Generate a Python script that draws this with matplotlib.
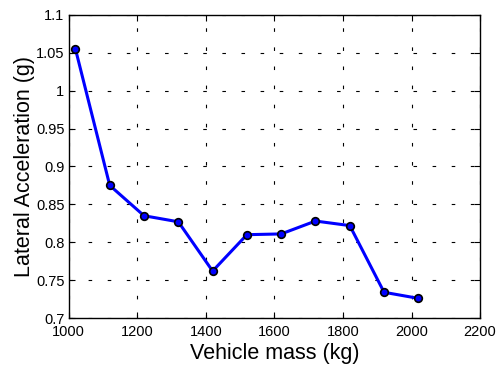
import matplotlib
matplotlib.use("Agg")
import matplotlib.pyplot as plt
from matplotlib.ticker import FuncFormatter

mass = [1020, 1120, 1220, 1320, 1420, 1520, 1620, 1720, 1820, 1920, 2020]
lat_acc = [1.055, 0.875, 0.835, 0.827, 0.762, 0.810, 0.811, 0.828, 0.822, 0.734, 0.726]
xticks = [1000, 1200, 1400, 1600, 1800, 2000, 2200]
yticks = [0.7, 0.75, 0.8, 0.85, 0.9, 0.95, 1.0, 1.05, 1.1]

plt.rcParams['font.family'] = ['Liberation Sans', 'DejaVu Sans']

fig = plt.figure(figsize=(4.97, 3.72), dpi=100)
ax = fig.add_axes([0.138, 0.145, 0.828, 0.815])

ax.plot(mass, lat_acc, color='#0000ff', linewidth=2.2, marker='o', markersize=5.5,
        markerfacecolor='#0000ff', markeredgecolor='black', markeredgewidth=1.2,
        zorder=3)

ax.set_xlim(1000, 2200)
ax.set_ylim(0.7, 1.1)
ax.set_xticks(xticks)
ax.set_yticks(yticks)
ax.yaxis.set_major_formatter(FuncFormatter(lambda v, p: f"{v:g}"))
ax.grid(True, color='black', linestyle=(0, (3.2, 14)), linewidth=0.8)
ax.tick_params(direction='in', top=True, right=True, labelsize=10.5, length=4)
ax.tick_params(axis='x', pad=5)
ax.tick_params(axis='y', pad=3)
for s in ax.spines.values():
    s.set_linewidth(1.0)
ax.set_xlabel('Vehicle mass (kg)', fontsize=15.5, labelpad=3)
ax.set_ylabel('Lateral Acceleration (g)', fontsize=15.5, labelpad=1)

fig.savefig('out.png', dpi=100)
